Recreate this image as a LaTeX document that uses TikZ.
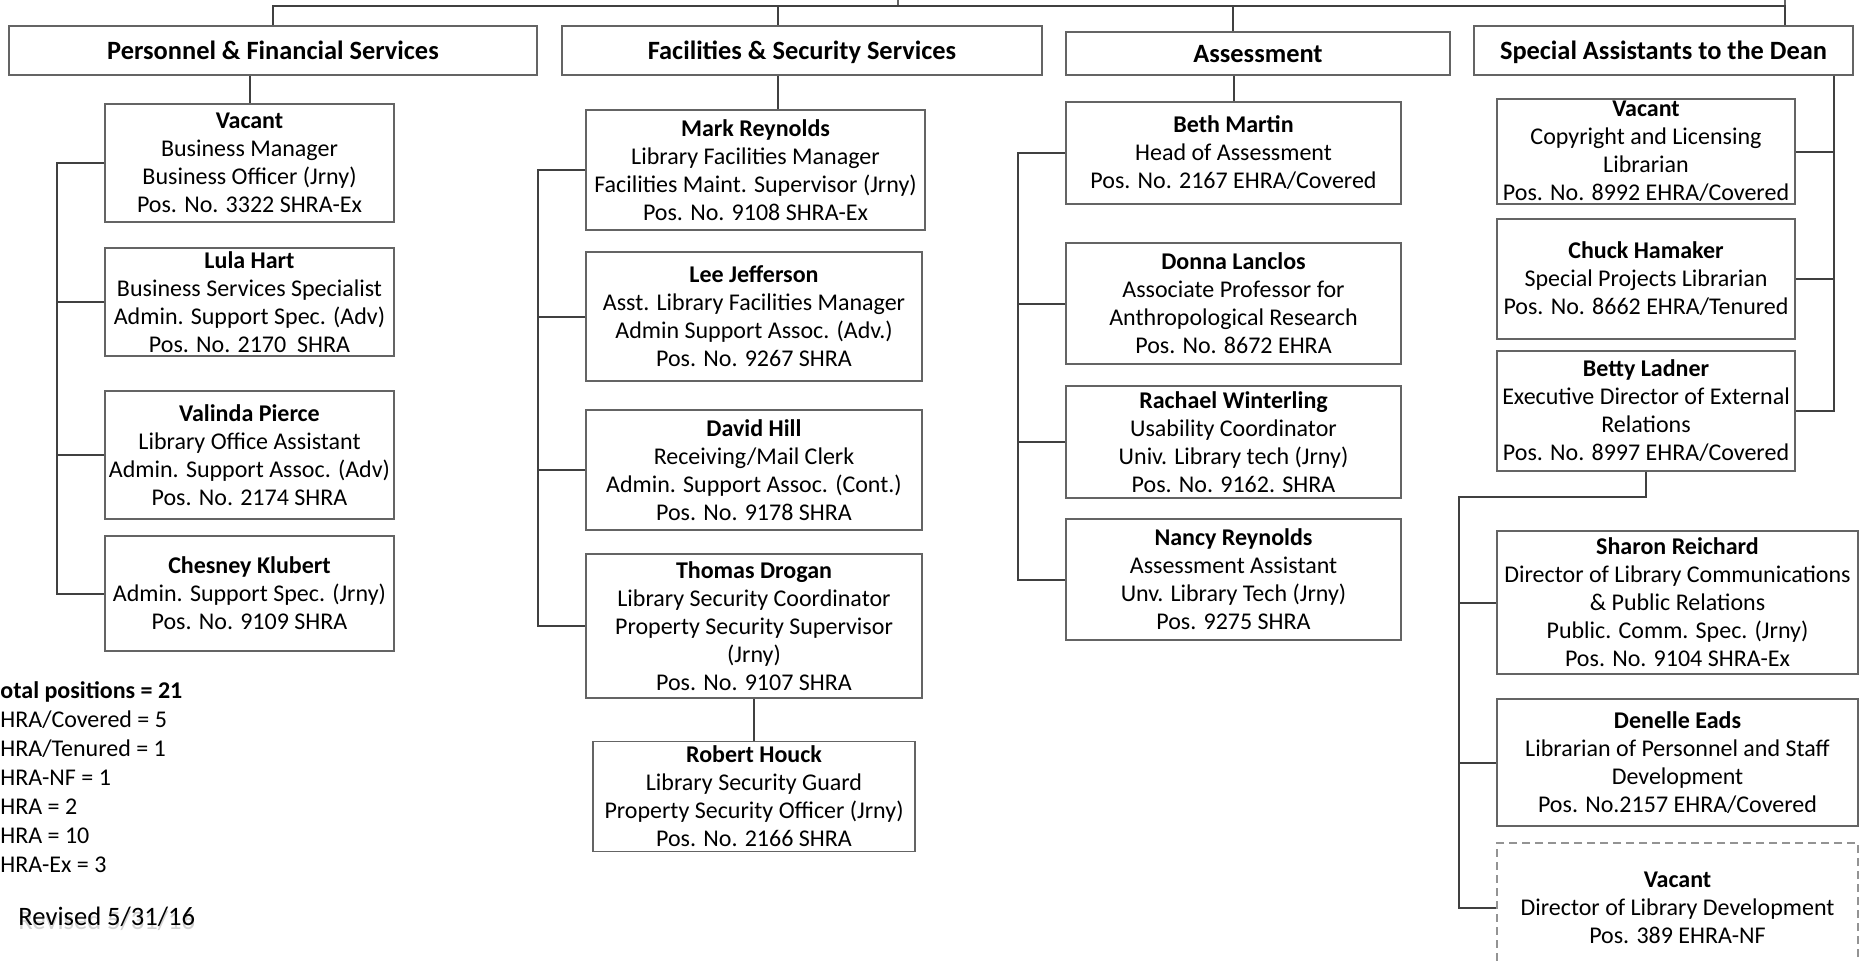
\documentclass[tikz,border=0pt]{standalone}
\usepackage{fontspec}
\setmainfont{Carlito}
\usepackage{tikz}
\definecolor{boxGray}{RGB}{100,100,100}
\definecolor{lineGray}{RGB}{64,64,64}
\usetikzlibrary{positioning}
\newcommand{\bodyfont}{\fontsize{12}{14}\selectfont}

\begin{document}
\begin{tikzpicture}[
    x=0.5pt, y=-0.5pt,
    post/.style={rectangle, draw=boxGray, line width=0.6pt, fill=white, align=center, inner sep=0pt, font=\bodyfont},
    sz/.style 2 args={minimum width=#1*0.5pt, minimum height=#2*0.5pt},
    unit/.style={post, text height=9.5pt, text depth=0.5pt, font=\fontsize{13.2}{15}\selectfont\bfseries},
    vacancy/.style={post, draw=gray!85, dash pattern=on 4pt off 2.5pt},
    conn/.style={draw=lineGray, line width=1pt}
]
    \useasboundingbox (0,0) rectangle (1859,960);
    \clip (0,0) rectangle (1859,960);

    % units
    \node[post, sz={887}{80}] (dean) at (1341.5,-34) {};
    \node[unit, sz={528}{49}] (pfs) at (273,50.5) {Personnel \& Financial Services};
    \node[unit, sz={480}{49}] (fss) at (802,50.5) {Facilities \& Security Services};
    \node[unit, sz={384}{43}] (asm) at (1258,53.5) {Assessment};
    \node[unit, sz={379}{49}] (sad) at (1663.5,50.5) {Special Assistants to the Dean};

    % personnel & financial
    \node[post, sz={289}{118}] (bm) at (249.5,163) {\textbf{Vacant}\\Business Manager\\Business Officer (Jrny)\\Pos. No. 3322 SHRA-Ex};
    \node[post, sz={289}{108}] (lh) at (249.5,302) {\textbf{Lula Hart}\\ Business Services Specialist\\Admin. Support Spec. (Adv)\\Pos. No. 2170\ \ SHRA};
    \node[post, sz={289}{128}] (vp) at (249.5,455) {\textbf{Valinda Pierce}\\Library Office Assistant\\Admin. Support Assoc. (Adv)\\Pos. No. 2174 SHRA};
    \node[post, sz={289}{115}] (ck) at (249.5,593.5) {\textbf{Chesney Klubert}\\Admin. Support Spec. (Jrny)\\Pos. No. 9109 SHRA};

    % facilities & security
    \node[post, sz={339}{120}] (mr) at (755.5,170) {\textbf{Mark Reynolds}\\Library Facilities Manager\\Facilities Maint. Supervisor (Jrny)\\Pos. No. 9108 SHRA-Ex};
    \node[post, sz={336}{129}] (lj) at (754,316.5) {\textbf{Lee Jefferson}\\Asst. Library Facilities Manager\\Admin Support Assoc. (Adv.)\\Pos. No. 9267 SHRA};
    \node[post, sz={336}{120}] (dh) at (754,470) {\textbf{David Hill}\\Receiving/Mail Clerk\\Admin. Support Assoc. (Cont.)\\Pos. No. 9178 SHRA};
    \node[post, sz={336}{144}] (td) at (754,626) {\textbf{Thomas Drogan}\\Library Security Coordinator\\Property Security Supervisor\\(Jrny)\\Pos. No. 9107 SHRA};
    \node[post, sz={322}{110}, below=21pt of td] (rh) {\textbf{Robert Houck}\\Library Security Guard\\Property Security Officer (Jrny)\\Pos. No. 2166 SHRA};

    % assessment
    \node[post, sz={335}{102}] (bmt) at (1233.5,153) {\textbf{Beth Martin}\\Head of Assessment\\Pos. No. 2167 EHRA/Covered};
    \node[post, sz={335}{121}] (dl) at (1233.5,303.5) {\textbf{Donna Lanclos}\\Associate Professor for\\Anthropological Research\\Pos. No. 8672 EHRA};
    \node[post, sz={335}{112}] (rw) at (1233.5,442) {\textbf{Rachael Winterling}\\Usability Coordinator\\Univ. Library tech (Jrny)\\Pos. No. 9162. SHRA};
    \node[post, sz={335}{121}] (nr) at (1233.5,579.5) {\textbf{Nancy Reynolds}\\Assessment Assistant\\Unv. Library Tech (Jrny)\\Pos. 9275 SHRA};

    % special assistants
    \node[post, sz={298}{105}] (cl) at (1646,151.5) {\textbf{Vacant}\\Copyright and Licensing\\Librarian\\Pos. No. 8992 EHRA/Covered};
    \node[post, sz={298}{120}] (chm) at (1646,279) {\textbf{Chuck Hamaker}\\Special Projects Librarian\\Pos. No. 8662 EHRA/Tenured};
    \node[post, sz={298}{120}] (bl) at (1646,411) {\textbf{Betty Ladner}\\Executive Director of External\\Relations\\Pos. No. 8997 EHRA/Covered};
    \node[post, sz={361}{143}] (sr) at (1677.5,602.5) {\textbf{Sharon Reichard}\\Director of Library Communications\\\& Public Relations\\Public. Comm. Spec. (Jrny)\\Pos. No. 9104 SHRA-Ex};
    \node[post, sz={361}{127}] (de) at (1677.5,762.5) {\textbf{Denelle Eads}\\Librarian of Personnel and Staff\\Development\\Pos. No.2157 EHRA/Covered};
    \node[vacancy, sz={361}{130}] (vd) at (1677.5,908) {\textbf{Vacant}\\Director of Library Development\\Pos. 389 EHRA-NF};

    % bus and trunks
    \coordinate (busR) at (1785,6);
    \coordinate (fssDrop) at (778,6);
    \coordinate (asmDrop) at (1233,6);
    \coordinate (pfsTrunk) at (57,0);
    \coordinate (fssTrunk) at (538,0);
    \coordinate (asmTrunk) at (1018,0);
    \coordinate (sadTrunk) at (1834,0);
    \coordinate (extTrunk) at (1459,497);

    \draw[conn] (pfs.north) |- (busR) -- (busR |- sad.north);
    \draw[conn] (fssDrop) -- (fssDrop |- fss.north);
    \draw[conn] (asmDrop) -- (asmDrop |- asm.north);

    \draw[conn] (bm.north) -- (bm.north |- pfs.south);
    \draw[conn] (bm.west) -| (pfsTrunk |- ck.west) -- (ck.west);
    \draw[conn] (lh.west) -- (lh.west -| pfsTrunk);
    \draw[conn] (vp.west) -- (vp.west -| pfsTrunk);

    \draw[conn] (fssDrop |- fss.south) -- (fssDrop |- mr.north);
    \draw[conn] (mr.west) -| (fssTrunk |- td.west) -- (td.west);
    \draw[conn] (lj.west) -- (lj.west -| fssTrunk);
    \draw[conn] (dh.west) -- (dh.west -| fssTrunk);
    \draw[conn] (td.south) -- (rh.north);

    \draw[conn] (bmt.north) -- (bmt.north |- asm.south);
    \draw[conn] (bmt.west) -| (asmTrunk |- nr.west) -- (nr.west);
    \draw[conn] (dl.west) -- (dl.west -| asmTrunk);
    \draw[conn] (rw.west) -- (rw.west -| asmTrunk);

    \draw[conn] (sadTrunk |- sad.south) |- (bl.east);
    \draw[conn] (cl.east) -- (cl.east -| sadTrunk);
    \draw[conn] (chm.east) -- (chm.east -| sadTrunk);

    \draw[conn] (bl.south) |- (extTrunk) |- (vd.west);
    \draw[conn] (sr.west) -- (sr.west -| extTrunk);
    \draw[conn] (de.west) -- (de.west -| extTrunk);

    % tally (cut at the left edge, as printed)
    \node[anchor=north west, align=left, inner sep=0pt, font=\fontsize{12}{14.5}\selectfont] (tally) at (0,681) {\textbf{otal positions = 21}\\HRA/Covered = 5\\HRA/Tenured = 1\\HRA-NF = 1\\HRA = 2\\HRA = 10\\HRA-Ex = 3};
    \node[anchor=west, inner sep=0pt, text=gray!35, font=\fontsize{13.3}{16}\selectfont] (revisedGhost) at (18,921) {Revised 5/31/16};
    \node[anchor=west, inner sep=0pt, font=\fontsize{13.3}{16}\selectfont] (revised) at (18,917) {Revised 5/31/16};
\end{tikzpicture}
\end{document}
